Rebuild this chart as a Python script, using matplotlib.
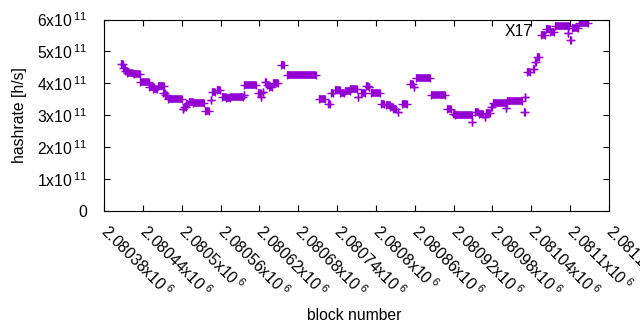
import matplotlib
matplotlib.use('Agg')
import matplotlib.pyplot as plt
import matplotlib.transforms as mtransforms

plt.rcParams['font.family'] = ['Liberation Sans', 'DejaVu Sans']
plt.rcParams['mathtext.fontset'] = 'custom'
plt.rcParams['mathtext.rm'] = 'Liberation Sans'

# clusters of blocks with (nearly) the same hashrate: first block, last block, hashrate [h/s]
block_start = [2080407, 2080409, 2080412, 2080415, 2080427, 2080436, 2080450, 2080456, 2080464, 2080471,
               2080474, 2080479, 2080502, 2080504, 2080507, 2080512, 2080518, 2080536, 2080545, 2080547,
               2080554, 2080562, 2080568, 2080574, 2080596, 2080597, 2080618, 2080623, 2080626, 2080628,
               2080631, 2080635, 2080641, 2080653, 2080662, 2080712, 2080726, 2080730, 2080737, 2080745,
               2080753, 2080760, 2080772, 2080777, 2080784, 2080789, 2080793, 2080808, 2080815, 2080821,
               2080826, 2080834, 2080841, 2080852, 2080859, 2080862, 2080885, 2080910, 2080919, 2080922,
               2080949, 2080953, 2080959, 2080968, 2080970, 2080978, 2080981, 2081001, 2081003, 2081030,
               2081028, 2081034, 2081042, 2081045, 2081049, 2081055, 2081063, 2081069, 2081076, 2081096,
               2081099, 2081103, 2081113]
block_end = [2080409, 2080412, 2080415, 2080425, 2080436, 2080450, 2080457, 2080462, 2080473, 2080474,
             2080477, 2080500, 2080502, 2080506, 2080510, 2080517, 2080534, 2080542, 2080545, 2080551,
             2080559, 2080568, 2080574, 2080595, 2080596, 2080614, 2080623, 2080623, 2080626, 2080630,
             2080635, 2080639, 2080648, 2080658, 2080708, 2080721, 2080729, 2080734, 2080744, 2080750,
             2080760, 2080771, 2080772, 2080783, 2080788, 2080790, 2080807, 2080812, 2080821, 2080826,
             2080831, 2080834, 2080848, 2080857, 2080859, 2080884, 2080907, 2080916, 2080922, 2080948,
             2080949, 2080957, 2080965, 2080968, 2080976, 2080980, 2081002, 2081001, 2081025, 2081030,
             2081030, 2081038, 2081044, 2081048, 2081052, 2081061, 2081069, 2081075, 2081098, 2081096,
             2081102, 2081112, 2081128]
hashrate = [4.61e11, 4.47e11, 4.39e11, 4.32e11, 4.28e11, 4.03e11, 3.88e11, 3.82e11, 3.92e11, 3.71e11,
            3.65e11, 3.50e11, 3.19e11, 3.27e11, 3.35e11, 3.43e11, 3.38e11, 3.13e11, 3.48e11, 3.74e11,
            3.79e11, 3.58e11, 3.53e11, 3.56e11, 3.64e11, 3.95e11, 3.69e11, 3.58e11, 3.74e11, 4.05e11,
            3.95e11, 3.88e11, 4.00e11, 4.57e11, 4.26e11, 3.50e11, 3.35e11, 3.69e11, 3.79e11, 3.69e11,
            3.77e11, 3.82e11, 3.58e11, 3.69e11, 3.92e11, 3.87e11, 3.69e11, 3.35e11, 3.32e11, 3.25e11,
            3.19e11, 3.11e11, 3.35e11, 3.97e11, 3.87e11, 4.16e11, 3.64e11, 3.19e11, 3.05e11, 3.00e11,
            2.80e11, 3.09e11, 3.04e11, 2.94e11, 3.07e11, 3.27e11, 3.39e11, 3.22e11, 3.46e11, 3.56e11,
            3.09e11, 4.35e11, 4.44e11, 4.68e11, 4.81e11, 5.52e11, 5.70e11, 5.62e11, 5.80e11, 5.59e11,
            5.36e11, 5.73e11, 5.88e11]

x_tick_values = [2080380, 2080440, 2080500, 2080560, 2080620, 2080680, 2080740,
                 2080800, 2080860, 2080920, 2080980, 2081040, 2081100, 2081160]
x_tick_mant = ['2.08038', '2.08044', '2.0805', '2.08056', '2.08062', '2.08068', '2.08074',
               '2.0808', '2.08086', '2.08092', '2.08098', '2.08104', '2.0811', '2.08116']
y_tick_values = [0, 1e11, 2e11, 3e11, 4e11, 5e11, 6e11]
y_tick_mant = ['0', '1', '2', '3', '4', '5', '6']

label_text = 'X17'
label_x = 2080999
label_y = 5.61e11

color = '#9400d3'
fs = 11.3

fig = plt.figure(figsize=(6.4, 3.3), dpi=100)
ax = fig.add_axes([104 / 640, 1 - 211 / 330, 505 / 640, (211 - 19.5) / 330])

for x0, x1, y in zip(block_start, block_end, hashrate):
    ax.plot([x0, x1], [y, y], color=color, lw=5.5, solid_capstyle='butt',
            marker='+', ms=6.3, mew=1.0)

ax.set_xlim(x_tick_values[0], x_tick_values[-1])
ax.set_ylim(0, 6e11)

ax.set_xticks(x_tick_values)
ax.set_xticklabels([r'$\mathregular{%sx10\,^{6}}$' % m for m in x_tick_mant],
                   rotation=-45, ha='left', va='center', rotation_mode='anchor', fontsize=fs)
offset = mtransforms.ScaledTranslation(3 / 100, 0, fig.dpi_scale_trans)
for lab in ax.get_xticklabels():
    lab.set_transform(lab.get_transform() + offset)

ax.set_yticks(y_tick_values)
ylabels = []
for m in y_tick_mant:
    if m == '0':
        ylabels.append('0')
    else:
        ylabels.append(r'$\mathregular{%sx10\,^{11}}\enspace\,$' % m)
ax.set_yticklabels(ylabels, fontsize=fs)

ax.tick_params(axis='both', direction='in', length=4, width=0.8, top=True, right=True)
ax.tick_params(axis='x', pad=12)
ax.tick_params(axis='y', pad=12)
for s in ax.spines.values():
    s.set_linewidth(0.8)

ax.text(label_x, label_y, label_text, fontsize=fs, ha='left', va='center')

fig.text(20 / 640, 1 - 115 / 330, 'hashrate [h/s]', rotation=90, ha='center', va='center', fontsize=fs)
fig.text(354 / 640, 1 - 315 / 330, 'block number', ha='center', va='center', fontsize=fs)

fig.savefig('out.png', dpi=100)
